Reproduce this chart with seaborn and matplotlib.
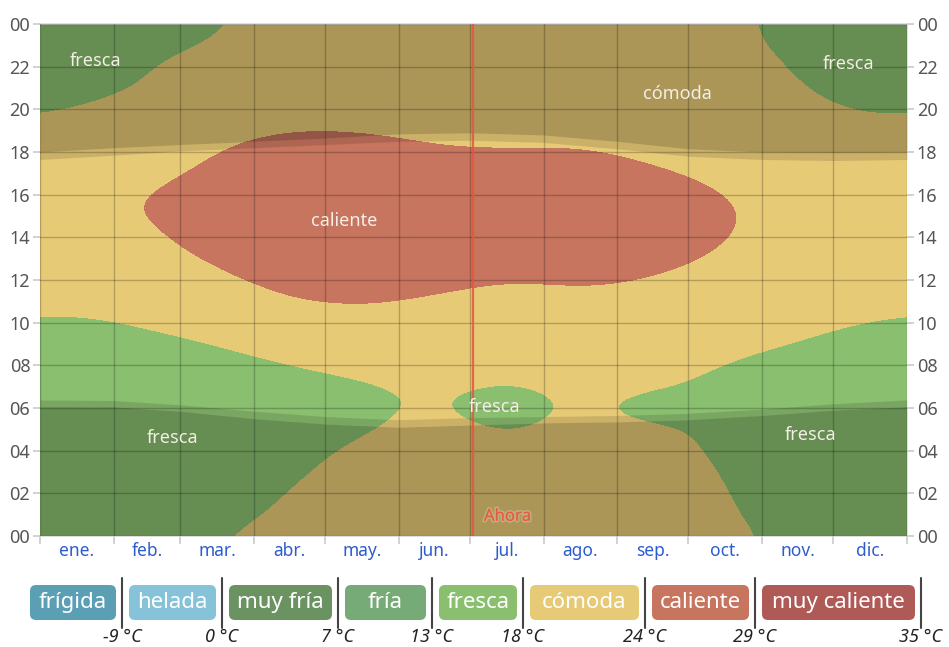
import numpy as np
import matplotlib
matplotlib.use("Agg")
import matplotlib.pyplot as plt
import matplotlib.patheffects as pe
from matplotlib.colors import ListedColormap, BoundaryNorm
from matplotlib.patches import FancyBboxPatch
import seaborn as sns

# ==========================
# Data
# ==========================

month_labels = ["ene.", "feb.", "mar.", "abr.", "may.", "jun.",
                "jul.", "ago.", "sep.", "oct.", "nov.", "dic."]
month_starts = [0, 31, 59, 90, 120, 151, 181, 212, 243, 273, 304, 334, 365]
month_mids = [15.5, 45, 74.5, 105, 135.5, 166, 196.5, 227.5, 258, 288.5, 319, 349.5]

# typical temperature (°C) for each hour 00..23 of each month
t_ene = [16.6, 16.2, 15.8, 15.4, 15.0, 14.7, 14.4, 14.3, 14.8, 16.0, 17.3, 19.0,
         20.5, 21.8, 22.8, 23.3, 23.2, 22.3, 20.8, 19.0, 17.9, 17.4, 17.1, 16.8]
t_feb = [17.3, 16.9, 16.5, 16.1, 15.7, 15.3, 15.0, 14.9, 15.5, 17.0, 18.4, 20.0,
         21.4, 22.6, 23.4, 23.9, 23.9, 23.2, 21.8, 20.2, 19.0, 17.95, 17.8, 17.5]
t_mar = [17.8, 17.3, 16.9, 16.5, 16.1, 15.8, 15.5, 15.5, 16.6, 18.1, 19.8, 21.6,
         23.3, 24.6, 25.4, 25.7, 25.5, 24.9, 24.3, 23.1, 21.6, 20.2, 19.0, 18.1]
t_abr = [18.9, 18.5, 18.15, 17.8, 17.5, 17.2, 17.0, 17.2, 17.95, 20.0, 22.0, 24.0,
         25.5, 26.6, 27.3, 27.6, 27.4, 26.6, 25.4, 24.1, 22.7, 21.3, 20.3, 19.5]
t_may = [20.0, 19.5, 19.1, 18.7, 18.35, 17.95, 17.75, 17.8, 18.6, 21.0, 22.8, 24.4,
         26.0, 27.2, 28.0, 28.4, 28.2, 27.4, 25.9, 23.8, 22.5, 21.6, 21.0, 20.5]
t_jun = [20.0, 19.6, 19.2, 18.9, 18.6, 18.4, 18.25, 18.3, 19.0, 20.4, 22.0, 23.5,
         24.9, 26.0, 26.8, 27.1, 26.9, 25.9, 24.4, 22.9, 21.9, 21.2, 20.7, 20.3]
t_jul = [19.7, 19.3, 18.9, 18.6, 18.25, 17.8, 17.35, 17.6, 18.6, 20.0, 21.5, 22.9,
         23.98, 25.2, 26.0, 26.4, 26.2, 25.4, 24.3, 22.8, 21.6, 20.9, 20.4, 20.0]
t_ago = [19.6, 19.2, 18.9, 18.7, 18.55, 18.45, 18.4, 18.5, 19.2, 20.5, 21.9, 23.3,
         24.5, 25.5, 26.2, 26.5, 26.3, 25.5, 24.4, 23.0, 21.9, 21.1, 20.5, 20.0]
t_sep = [19.4, 19.1, 18.85, 18.6, 18.45, 18.3, 17.35, 18.1, 19.0, 20.2, 21.6, 22.9,
         23.9, 24.8, 25.4, 25.6, 25.2, 24.5, 23.3, 22.1, 21.2, 20.5, 20.0, 19.7]
t_oct = [18.6, 18.4, 18.25, 18.1, 17.9, 17.7, 17.5, 17.5, 17.95, 19.2, 20.5, 21.7,
         22.8, 23.6, 24.05, 24.2, 24.05, 23.3, 22.2, 21.1, 20.3, 19.7, 19.1, 18.7]
t_nov = [17.2, 16.8, 16.5, 16.2, 15.9, 15.6, 15.4, 15.4, 16.3, 17.9, 19.3, 20.6,
         21.6, 22.4, 22.9, 23.0, 22.7, 21.8, 20.6, 19.5, 18.6, 17.98, 17.7, 17.4]
t_dic = [16.7, 16.3, 15.9, 15.5, 15.2, 14.9, 14.6, 14.5, 15.0, 16.2, 17.8, 19.3,
         20.6, 21.7, 22.4, 22.7, 22.5, 21.6, 20.2, 18.6, 17.6, 17.2, 16.9, 16.8]

# twilight / night limits (hour) at the first day of each month
dawn = [6.06, 6.05, 5.85, 5.5, 5.25, 5.1, 5.2, 5.3, 5.35, 5.45, 5.65, 5.9, 6.06]
sunrise = [6.38, 6.35, 6.15, 5.85, 5.6, 5.45, 5.55, 5.6, 5.65, 5.75, 5.95, 6.2, 6.38]
sunset = [17.65, 17.85, 18.05, 18.2, 18.35, 18.5, 18.55, 18.45, 18.15, 17.8, 17.65, 17.6, 17.65]
dusk = [18.0, 18.2, 18.35, 18.5, 18.65, 18.85, 18.9, 18.8, 18.5, 18.15, 18.0, 17.98, 18.0]

categories = ["frígida", "helada", "muy fría", "fría", "fresca",
              "cómoda", "caliente", "muy caliente"]
cat_colors = ["#5b9fb5", "#86c3d8", "#6a9361", "#76aa77", "#8abf6f",
              "#e7ca76", "#c7755f", "#b05a57"]
thresholds = [-9, 0, 7, 13, 18, 24, 29, 35]

now_day = 182.3

# ==========================
# Style
# ==========================

sns.set_theme(style="white")
plt.rcParams["font.family"] = ["Noto Sans", "DejaVu Sans"]

fig = plt.figure(figsize=(9.49, 6.47), dpi=100)
ax = fig.add_axes([40 / 949, 1 - 536 / 647, 867 / 949, 512 / 647])

# ==========================
# Temperature bands
# ==========================

temps = [t_ene, t_feb, t_mar, t_abr, t_may, t_jun,
         t_jul, t_ago, t_sep, t_oct, t_nov, t_dic]
cols = [temps[-1]] + temps + [temps[0]]
xs = [month_mids[-1] - 365] + month_mids + [month_mids[0] + 365]
Z = np.array([c + c[:1] for c in cols]).T

levels = [-60] + thresholds[:-1] + [60]
cmap = ListedColormap(cat_colors)
norm = BoundaryNorm(levels, cmap.N)

dx = (xs[-1] - xs[0]) / (len(xs) - 1)
ax.imshow(Z, origin="lower", cmap=cmap, norm=norm, aspect="auto",
          interpolation="bicubic", interpolation_stage="data",
          extent=[xs[0] - dx / 2, xs[-1] + dx / 2, -0.5, 24.5])

# night and twilight shading
ax.fill_between(month_starts, 0, dawn, color="black", alpha=0.26, lw=0)
ax.fill_between(month_starts, dawn, sunrise, color="black", alpha=0.12, lw=0)
ax.fill_between(month_starts, sunset, dusk, color="black", alpha=0.12, lw=0)
ax.fill_between(month_starts, dusk, 24, color="black", alpha=0.26, lw=0)

# ==========================
# Axes
# ==========================

ax.set_xlim(0, 365)
ax.set_ylim(0, 24)

ax.set_xticks(month_starts)
ax.set_xticklabels([])
ax.set_xticks(month_mids, minor=True)
ax.set_xticklabels(month_labels, minor=True, color="#2c5ccf", fontsize=12.5)
ax.tick_params(axis="x", which="major", length=6, color="#cccccc", bottom=True)
ax.tick_params(axis="x", which="minor", length=0, pad=4)

yt = list(range(0, 25, 2))
ax.set_yticks(yt)
ax.set_yticklabels([f"{h % 24:02d}" for h in yt], color="#555555", fontsize=13)
ax.tick_params(axis="y", length=5, color="#cccccc", left=True, right=True,
               labelleft=True, labelright=True, pad=2)

ax.set_axisbelow(False)
ax.grid(True, which="major", color="black", alpha=0.22, lw=1)

for s in ["left", "right", "bottom"]:
    ax.spines[s].set_visible(False)
ax.spines["top"].set_color("#dddddd")

# now line
ax.axvline(now_day, color="#e8553a", lw=1.6, alpha=0.85, zorder=4)
ax.text(now_day + 14.5, 0.9, "Ahora", color="#e25a40", fontsize=12,
        ha="center", va="center", zorder=5,
        path_effects=[pe.withStroke(linewidth=2.5, foreground=(1, 0.95, 0.85, 0.25))])

# region labels
label_kw = dict(color="#f3eee6", fontsize=13, ha="center", va="center", zorder=5)
ax.text(23.2, 22.27, "fresca", **label_kw)
ax.text(128, 14.77, "caliente", **label_kw)
ax.text(268.2, 20.72, "cómoda", **label_kw)
ax.text(340.2, 22.13, "fresca", **label_kw)
ax.text(56, 4.59, "fresca", **label_kw)
ax.text(191.2, 6.05, "fresca", **label_kw)
ax.text(324.2, 4.73, "fresca", **label_kw)

# ==========================
# Legend
# ==========================

lax = fig.add_axes([0, 0, 1, 87 / 647])
lax.set_xlim(0, 949)
lax.set_ylim(87, 0)
lax.axis("off")

bar_x = [122, 222, 338, 432, 523, 645, 755, 921]
left = 30
for name, col, t, bx in zip(categories, cat_colors, thresholds, bar_x):
    box = FancyBboxPatch((left, 25), bx - 6 - left, 35,
                         boxstyle="round,pad=0,rounding_size=6",
                         fc=col, ec="none")
    lax.add_patch(box)
    lax.text((left + bx - 6) / 2, 42.5, name, color="white", fontsize=16,
             ha="center", va="center")
    lax.plot([bx, bx], [18, 68], color="#444444", lw=1.5)
    lax.text(bx, 77, f"{t} °C", style="italic", color="#222222",
             fontsize=13, ha="center", va="center")
    left = bx + 7

fig.savefig("out.png", dpi=100)
